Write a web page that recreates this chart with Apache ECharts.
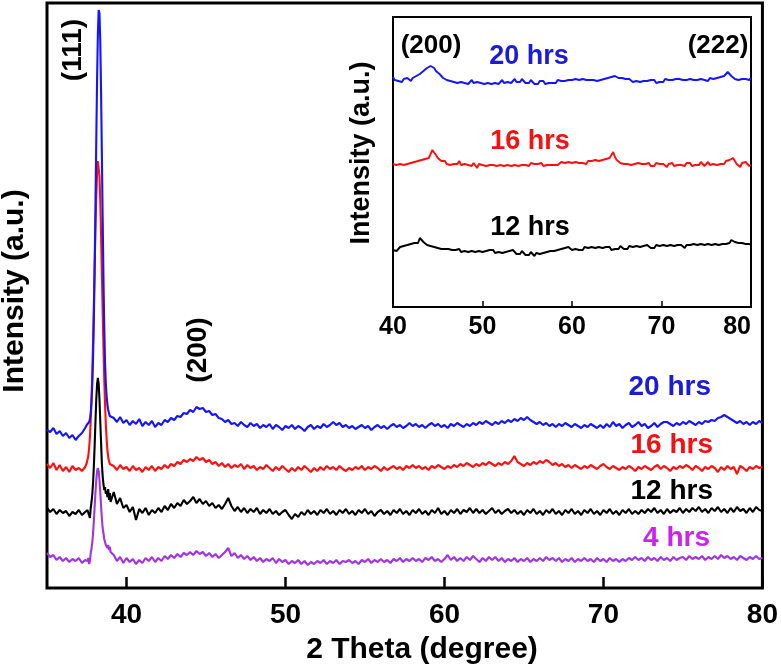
<!DOCTYPE html>
<html><head><meta charset="utf-8">
<script src="https://cdn.jsdelivr.net/npm/echarts@6/dist/echarts.min.js"></script>
<style>html,body{margin:0;padding:0;background:#fff}#c{width:781px;height:670px}</style>
</head><body><div id="c"></div>
<script>
// ---------- sampling grids (2θ, degree) ----------
function steps(a, b, d){ const out=[]; const n=Math.round((b-a)/d); for(let i=0;i<=n;i++) out.push(+(a+i*d).toFixed(2)); return out; }
const thetaMain = steps(35.0, 37.4, 0.2).concat(steps(37.5, 39.0, 0.05), steps(39.2, 80.0, 0.2));
const thetaInset = steps(40, 80, 0.2);

const mainTicks = [40, 50, 60, 70, 80];
const insetTicks = [40, 50, 60, 70, 80];

// ---------- main panel intensities (a.u., stacked with offsets as plotted) ----------
const hrs20 = [
 158,156,160,154,157,152,155,150,153,148,152,155,160,
 163,163,164,166,169,175,186,204,232,271,323,384,448,509,554,578,575,547,497,435,371,311,262,226,205,192,183,178,175,172,174,
 170,166,171,165,
 168,163,167,164,169, 162,166,163,167,161, 165,163,168,166,170, 168,172,171,175,174,
 178,176,181,179,180, 176,177,173,174,170, 169,166,168,164,165, 162,166,163,161,165,
 162,164,160,163,161, 164,159,163,161,158, 162,160,163,159,162, 160,157,161,163,159,
 162,160,164,161,163, 166,163,165,161,163, 160,162,159,161,163, 160,162,158,161,163,
 160,162,159,162,164, 161,163,160,162,165, 162,164,161,163,160, 163,165,162,164,161,
 163,160,164,162,165, 163,161,164,162,165, 163,166,164,167,165, 163,166,164,167,165,
 168,166,169,167,170, 168,171,168,166,164, 166,163,165,162,164, 161,164,162,165,163,
 161,164,162,160,163, 161,164,162,160,163, 160,164,161,166,162, 164,160,163,165,161,
 163,166,162,164,160, 162,165,161,164,166, 166,164,162,165,163, 166,164,167,165,163,
 166,164,167,166,168, 167,170,171,173,171, 169,167,165,167,164, 166,163,166,164,167,
 165
];
const hrs16 = [
 124,120,125,118,123,117,121,116,122,118,120,117,121,
 125,127,132,140,151,167,189,216,249,286,324,361,392,415,427,426,412,387,354,316,278,242,210,184,164,149,138,131,127,124,123,
 122,118,123,119,
 121,117,122,118,120, 116,121,118,122,117, 121,119,123,120,124, 122,126,124,128,126,
 129,127,131,128,130, 126,128,124,126,122, 125,121,124,120,123, 121,124,119,123,120,
 122,118,121,119,123, 120,117,121,118,122, 119,116,120,117,121, 118,122,119,116,120,
 117,121,118,122,119, 121,118,122,119,117, 120,118,121,119,122, 118,121,119,122,120,
 117,121,118,120,122, 119,121,118,122,120, 123,120,122,119,121, 118,122,120,123,121,
 119,122,120,123,121, 124,122,125,123,121, 124,122,125,123,126, 124,122,125,123,126,
 124,127,132,126,124, 122,125,123,126,124, 127,125,128,126,123, 125,122,124,121,123,
 120,123,121,119,122, 120,123,121,119,122, 124,121,119,122,120, 118,121,119,122,120,
 117,121,119,122,120, 118,121,123,119,122, 120,117,121,119,122, 120,123,121,118,122,
 120,117,121,119,122, 120,116,121,118,122, 119,121,114,122,120, 117,121,119,122,120,
 121
];
const hrs12 = [
 80,76,79,74,78,75,77,72,76,74,78,73,76,
 74,78,75,73,70,80,86,94,106,123,144,167,189,204,210,204,189,167,146,125,112,104,98,101,94,97,91,99,88,95,86,
 96,84,90,80,
 83,76,81,68,79, 75,80,73,78,75, 80,76,82,78,84, 80,85,82,88,84,
 87,91,85,89,84, 87,82,85,80,83, 79,84,90,82,77, 81,76,80,75,79,
 76,80,74,78,75, 79,74,77,73,76, 78,73,69,74,71, 76,73,78,74,77,
 73,78,75,79,74, 77,73,78,75,79, 74,77,73,78,75, 79,74,77,72,76,
 78,74,77,73,78, 75,79,74,77,73, 78,75,79,74,77, 73,78,75,80,74,
 77,73,78,75,79, 74,78,76,80,75, 79,75,78,74,77, 80,75,78,74,77,
 79,75,78,74,77, 73,78,75,79,74, 77,73,78,75,79, 74,77,73,78,75,
 79,74,77,73,78, 75,79,74,77,73, 78,75,79,74,77, 73,78,75,79,74,
 77,74,78,75,79, 76,80,75,78,74, 79,75,78,76,80, 75,79,76,80,77,
 81,76,79,75,80, 77,81,76,79,75, 80,76,81,77,79, 75,80,76,81,78,
 77
];
const hrs4 = [
 35,31,33,28,31,27,30,26,29,27,30,25,28,
 29,27,30,24,27,35,39,46,55,68,82,96,108,117,120,117,108,96,82,70,60,55,49,47,43,45,40,43,38,41,36,
 33,27,31,25,
 30,26,29,24,28, 25,30,27,31,26, 30,27,32,29,33, 30,34,31,35,33,
 36,33,37,34,36, 32,35,31,34,30, 33,36,40,32,35, 30,33,29,32,28,
 31,27,30,26,29, 27,30,25,29,26, 28,24,27,25,28, 24,27,23,26,24,
 27,25,28,24,27, 25,28,24,27,26, 28,25,27,24,28, 26,29,25,28,26,
 29,26,28,25,29, 27,30,26,29,27, 30,27,29,26,30, 28,31,27,29,26,
 29,33,28,31,27, 30,27,31,28,32, 29,26,30,27,31, 28,31,27,30,26,
 29,27,30,26,29, 27,30,26,29,27, 30,27,31,28,30, 27,30,26,29,27,
 30,26,29,27,30, 27,29,26,30,27, 29,26,30,27,29, 26,29,27,30,28,
 31,28,30,27,31, 28,30,27,31,28, 30,27,31,28,30, 31,28,32,29,31,
 29,32,28,31,29, 32,29,33,30,32, 29,31,28,32,30, 28,31,29,32,29,
 30
];

// ---------- inset panel intensities ----------
const inset20 = [
 230,227,229,226,228, 225,228,226,229,227, 226,229,228,231,230, 233,232,236,235,239,
 238,241,240,239,236, 237,233,232,229,230, 227,228,226,227,225, 227,224,226,225,227,
 224,226,223,225,227, 224,226,225,227,224, 226,223,225,224,226, 223,225,224,226,223,
 225,227,224,226,225, 227,224,226,228,225, 227,225,228,226,224, 226,224,227,225,223,
 225,223,226,224,226, 223,225,224,226,224, 226,224,227,225,226, 224,226,225,227,225,
 227,225,228,226,227, 225,228,226,227,225, 227,229,227,228,226, 228,227,229,228,230,
 229,231,230,232,231, 230,229,231,229,227, 228,226,228,227,225, 227,226,228,225,227,
 226,224,226,225,227, 225,227,224,226,225, 227,225,228,226,227, 225,227,226,228,226,
 228,226,227,225,227, 226,228,226,227,225, 227,226,228,226,227, 228,226,229,227,228,
 227,229,228,230,229, 231,233,235,233,231, 230,228,229,227,229, 228,230,228,229,227,
 229
];
const inset16 = [
 143,145,142,144,143, 145,142,144,143,145, 144,142,145,143,146, 144,147,145,148,150,
 149,153,157,159,152, 149,147,146,144,146, 143,145,142,144,143, 145,143,146,142,144,
 143,145,142,144,141, 144,142,139,143,144, 142,144,141,143,142, 144,142,143,141,143,
 142,144,141,143,142, 144,141,143,142,144, 141,143,142,144,142, 143,141,144,142,143,
 141,143,142,144,141, 143,142,144,142,143, 142,144,142,143,145, 143,144,142,145,143,
 144,143,145,143,144, 146,144,145,143,146, 144,146,145,147,145, 146,145,147,146,148,
 147,149,152,155,150, 147,146,144,145,143, 145,143,144,142,144, 143,141,144,142,143,
 141,143,142,144,141, 143,141,144,142,143, 141,143,142,140,143, 142,144,141,143,142,
 144,142,143,141,144, 142,144,141,143,142, 144,142,145,143,141, 143,145,142,144,143,
 145,142,144,143,145, 143,146,144,147,145, 149,146,143,145,140, 144,142,145,143,141,
 142
];
const inset12 = [
 57,59,56,58,60, 58,61,59,62,60, 63,61,64,66,64, 69,67,65,63,62,
 60,61,59,60,58, 59,57,58,56,58, 57,58,56,57,55, 57,56,58,55,57,
 56,58,55,57,56, 58,55,57,56,58, 55,57,56,54,57, 55,57,54,56,55,
 57,54,56,55,53, 56,54,57,55,53, 55,53,56,54,52, 54,52,55,53,51,
 54,52,53,51,54, 52,55,53,56,54, 56,54,57,55,58, 56,59,57,60,58,
 57,59,58,60,57, 59,57,60,58,59, 57,60,58,59,57, 60,58,59,57,60,
 58,60,57,59,58, 60,58,61,59,58, 60,58,61,59,60, 58,61,59,60,58,
 61,59,62,60,59, 61,59,62,60,61, 59,62,60,61,59, 62,60,61,59,62,
 60,62,61,59,62, 60,62,61,63,61, 62,60,63,61,62, 60,63,61,62,60,
 63,61,62,60,63, 61,63,62,64,67, 68,65,63,64,62, 64,62,63,61,63,
 62
];

const FONT = '"Liberation Sans", Arial, Helvetica, sans-serif';
const BLUE = '#1414ff', RED = '#ff0e0e', BLACK = '#000000', PURPLE = '#a232e6';

function pairs(xs, ys){ return xs.map((x, i) => [x, ys[i]]); }
function line(name, xs, ys, color, idx, w){
  return {name, type:'line', xAxisIndex:idx, yAxisIndex:idx, data:pairs(xs, ys), showSymbol:false, symbol:'none',
    lineStyle:{color, width:w}, itemStyle:{color}, clip:true, silent:true, z:3};
}
function txt(text, x, y, size, color, align, rot){
  return {type:'text', x, y, rotation: rot || 0, z:20,
    style:{text, fill:color, font:'bold ' + size + 'px ' + FONT,
      textAlign:align || 'center', align:align || 'center', textVerticalAlign:'middle', verticalAlign:'middle'}};
}
const R = Math.PI / 2;

const chart = echarts.init(document.getElementById('c'), null, {renderer:'canvas'});
chart.setOption({
  animation:false,
  backgroundColor:'#ffffff',
  grid:[
    {left:47, top:3, width:719, height:585, show:true, borderColor:'#000', borderWidth:3, backgroundColor:'rgba(0,0,0,0)'},
    {left:393, top:17, width:358, height:290, show:true, borderColor:'#000', borderWidth:2, backgroundColor:'#ffffff'}
  ],
  xAxis:[
    {gridIndex:0, type:'value', min:35, max:80,
     axisLine:{show:false}, splitLine:{show:false},
     axisTick:{show:true, inside:true, length:11, customValues:mainTicks, lineStyle:{color:'#000', width:2.5}},
     axisLabel:{show:true, customValues:mainTicks, margin:13, color:'#000', fontSize:28, fontWeight:'bold', fontFamily:FONT}},
    {gridIndex:1, type:'value', min:40, max:80, interval:10,
     axisLine:{show:false}, splitLine:{show:false},
     axisTick:{show:true, inside:true, length:6, customValues:insetTicks, lineStyle:{color:'#000', width:1.5}},
     axisLabel:{show:true, customValues:insetTicks, margin:8, color:'#000', fontSize:25, fontWeight:'bold', fontFamily:FONT, alignMaxLabel:'right'}}
  ],
  yAxis:[
    {gridIndex:0, type:'value', min:0, max:585, show:false},
    {gridIndex:1, type:'value', min:0, max:290, show:false}
  ],
  series:[
    line('4 hrs', thetaMain, hrs4, PURPLE, 0, 2.1),
    line('12 hrs', thetaMain, hrs12, BLACK, 0, 2.1),
    line('16 hrs', thetaMain, hrs16, RED, 0, 2.1),
    line('20 hrs', thetaMain, hrs20, BLUE, 0, 2.1),
    line('12 hrs (inset)', thetaInset, inset12, BLACK, 1, 1.9),
    line('16 hrs (inset)', thetaInset, inset16, RED, 1, 1.9),
    line('20 hrs (inset)', thetaInset, inset20, BLUE, 1, 1.9)
  ],
  graphic:[
    txt('Intensity (a.u.)', 15, 291, 30, '#000', 'center', R),
    txt('2 Theta (degree)', 422, 650, 30, '#000', 'center'),
    txt('(111)', 73, 50, 28, '#000', 'center', R),
    txt('(200)', 198, 350, 28, '#000', 'center', R),
    txt('20 hrs', 711, 387, 28, '#1c1cd8', 'right'),
    txt('16 hrs', 713, 445, 28, '#f21212', 'right'),
    txt('12 hrs', 713, 491, 28, '#000', 'right'),
    txt('4 hrs', 710, 538, 28, '#cc22ee', 'right'),
    txt('Intensity (a.u.)', 362, 153, 27, '#000', 'center', R),
    txt('(200)', 431, 46, 26, '#000', 'center'),
    txt('(222)', 718, 46, 26, '#000', 'center'),
    txt('20 hrs', 529, 57, 27, '#1c1cd8', 'center'),
    txt('16 hrs', 530, 142, 27, '#f21212', 'center'),
    txt('12 hrs', 530, 228, 27, '#000', 'center')
  ]
});

const lens = {thetaMain:thetaMain.length, hrs20:hrs20.length, hrs16:hrs16.length, hrs12:hrs12.length, hrs4:hrs4.length,
  thetaInset:thetaInset.length, inset20:inset20.length, inset16:inset16.length, inset12:inset12.length};
if (lens.hrs20!==lens.thetaMain || lens.hrs16!==lens.thetaMain || lens.hrs12!==lens.thetaMain || lens.hrs4!==lens.thetaMain ||
    lens.inset20!==lens.thetaInset || lens.inset16!==lens.thetaInset || lens.inset12!==lens.thetaInset) {
  setTimeout(function(){ throw new Error('length mismatch ' + JSON.stringify(lens)); }, 0);
}
</script></body></html>
